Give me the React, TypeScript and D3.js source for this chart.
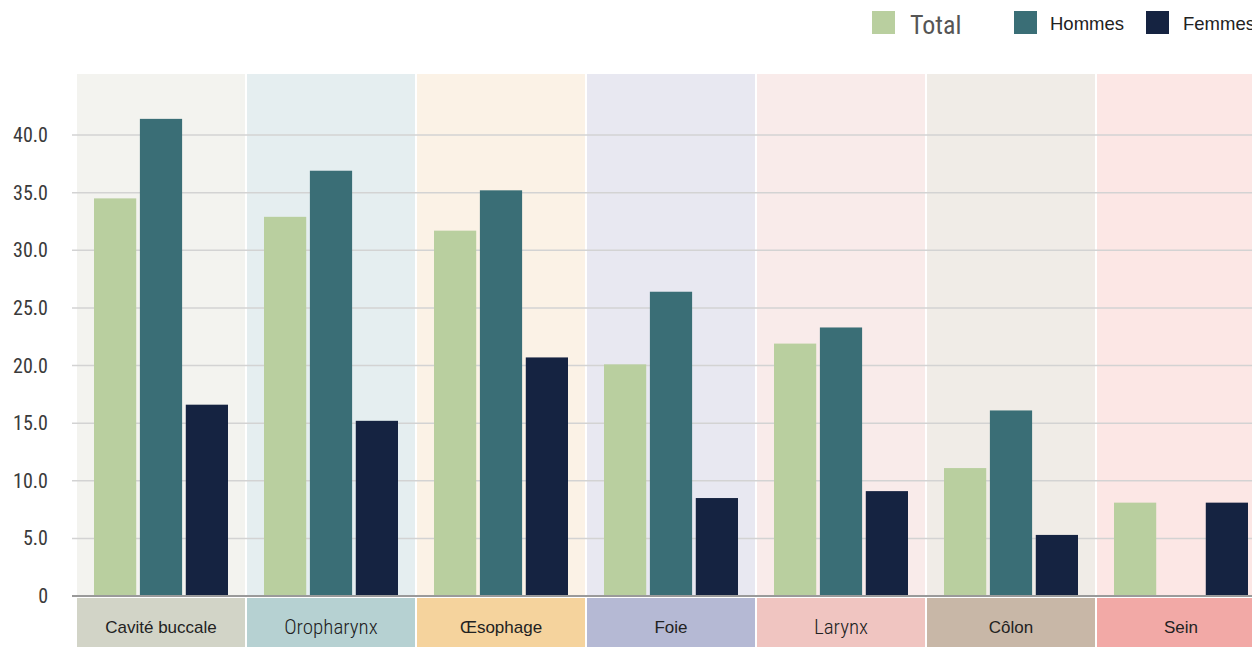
import React from "react";
import * as d3 from "d3";

const categories = ["Cavité buccale", "Oropharynx", "Œsophage", "Foie", "Larynx", "Côlon", "Sein"];
const seriesNames = ["Total", "Hommes", "Femmes"];
const totalValues = [34.5, 32.9, 31.7, 20.1, 21.9, 11.1, 8.1];
const hommesValues = [41.4, 36.9, 35.2, 26.4, 23.3, 16.1, 0];
const femmesValues = [16.6, 15.2, 20.7, 8.5, 9.1, 5.3, 8.1];
const yTicks = [0, 5, 10, 15, 20, 25, 30, 35, 40];

const seriesColors = ["#b9cf9f", "#3a6e76", "#152341"];
const panelBg = ["#f3f3ef", "#e5eef0", "#fbf2e6", "#e8e8f1", "#f9ebea", "#f0ece7", "#fce7e5"];
const labelBg = ["#d2d4c7", "#b6d1d2", "#f5d39d", "#b5b9d4", "#f0c5c1", "#c8b7a7", "#f2a9a6"];
const condensedLabel = [false, true, false, false, true, false, false];

const W = 1252;
const H = 647;
const CONDENSED = "'Roboto Condensed', 'Liberation Sans Narrow', 'DejaVu Sans Condensed', sans-serif";
const REGULAR = "'Liberation Sans', Arial, sans-serif";

export default function App() {
  const values = [totalValues, hommesValues, femmesValues];
  const y = d3.scaleLinear().domain([0, 40]).range([596, 135]);
  const x = d3
    .scaleBand<string>()
    .domain(categories)
    .range([76, 76 + 170 * 7])
    .paddingInner(2 / 170)
    .paddingOuter(1 / 170);
  const bw = x.bandwidth();
  const xi = d3.scaleBand<string>().domain(seriesNames).range([17, bw - 17]).paddingInner(0.08);

  const legend = [
    { x: 872, tx: 910, ty: 34, font: CONDENSED, size: 26, weight: 400 },
    { x: 1014, tx: 1050, ty: 30, font: REGULAR, size: 18.5, weight: 400 },
    { x: 1146, tx: 1183, ty: 30, font: REGULAR, size: 18.5, weight: 400 },
  ];

  return (
    <svg
      width={W}
      height={H}
      style={{ position: "absolute", left: 0, top: 0, display: "block", background: "#fff" }}
    >
      {categories.map((c, i) => (
        <g key={c}>
          <rect x={x(c)} y={74} width={bw} height={596 - 74} fill={panelBg[i]} />
          <rect x={x(c)} y={598} width={bw} height={H - 598} fill={labelBg[i]} />
        </g>
      ))}
      {yTicks.slice(1).map((t) => (
        <line key={t} x1={72} x2={W} y1={y(t)} y2={y(t)} stroke="#d3d3d3" strokeWidth={1.5} />
      ))}
      {yTicks.map((t) => (
        <text
          key={"l" + t}
          x={48}
          y={y(t)}
          dy="0.35em"
          textAnchor="end"
          fontFamily={CONDENSED}
          fontSize={20}
          fontWeight={400}
          fill="#3a3a3a"
        >
          {t === 0 ? "0" : d3.format(".1f")(t)}
        </text>
      ))}
      {categories.map((c, i) =>
        seriesNames.map((s, j) => {
          const v = values[j][i];
          if (!v) return null;
          return (
            <rect
              key={c + s}
              x={(x(c) as number) + (xi(s) as number)}
              y={y(v)}
              width={xi.bandwidth()}
              height={y(0) - y(v)}
              fill={seriesColors[j]}
            />
          );
        })
      )}
      <line x1={72} x2={W} y1={596} y2={596} stroke="#9a9a9a" strokeWidth={2} />
      {categories.map((c, i) => (
        <text
          key={"c" + c}
          x={(x(c) as number) + bw / 2}
          y={627}
          dy="0.35em"
          textAnchor="middle"
          fontFamily={condensedLabel[i] ? CONDENSED : REGULAR}
          fontSize={condensedLabel[i] ? 21 : 17}
          fontWeight={condensedLabel[i] ? 300 : 400}
          fill="#222"
        >
          {c}
        </text>
      ))}
      {seriesNames.map((s, j) => (
        <g key={"lg" + s}>
          <rect x={legend[j].x} y={11} width={23} height={23} fill={seriesColors[j]} />
          <text
            x={legend[j].tx}
            y={legend[j].ty}
            fontFamily={legend[j].font}
            fontSize={legend[j].size}
            fontWeight={legend[j].weight}
            fill={j === 0 ? "#555" : "#222"}
          >
            {s}
          </text>
        </g>
      ))}
    </svg>
  );
}
